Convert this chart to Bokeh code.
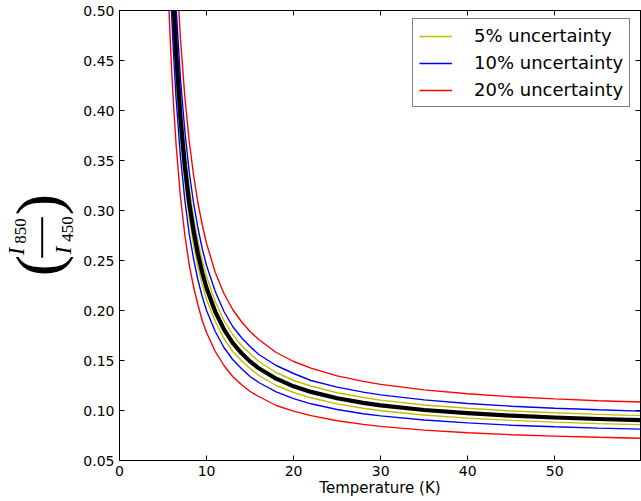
import math
from bokeh.plotting import figure
from bokeh.layouts import row
from bokeh.models import (LinearAxis, FixedTicker, PrintfTickFormatter,
                          Legend, LegendItem, Range1d)
from bokeh.core.properties import value
from bokeh.embed import file_html
from bokeh.resources import INLINE

# ---- data ----
x_ticks = [0, 10, 20, 30, 40, 50]
y_ticks = [0.05, 0.10, 0.15, 0.20, 0.25, 0.30, 0.35, 0.40, 0.45, 0.50]

T_black = [6.0, 6.2, 6.5, 7.0, 7.5, 8.0, 8.5, 9.0, 9.5, 10, 11, 12, 13, 14, 15, 16, 18, 20, 22, 25, 28, 30, 35, 40, 45, 50, 55, 59.8]
R_black = [0.549, 0.509, 0.458, 0.393, 0.345, 0.308, 0.280, 0.257, 0.238, 0.2225, 0.1987, 0.1811, 0.1677, 0.1574, 0.1491,
           0.1422, 0.1318, 0.1242, 0.1186, 0.1122, 0.1076, 0.1051, 0.1005, 0.0973, 0.0948, 0.0930, 0.0915, 0.0904]

T_y_up = [6.2, 6.5, 7.0, 7.5, 8.0, 8.5, 9.0, 9.5, 10, 11, 12, 13, 14, 15, 16, 18, 20, 22, 25, 28, 30, 35, 40, 45, 50, 55, 59.8]
R_y_up = [0.534, 0.481, 0.413, 0.362, 0.323, 0.294, 0.270, 0.250, 0.234, 0.209, 0.190, 0.176, 0.165, 0.157, 0.149,
          0.138, 0.130, 0.1245, 0.1178, 0.1130, 0.1104, 0.1055, 0.1022, 0.0995, 0.0977, 0.0961, 0.0949]
T_y_lo = [5.8, 6.0, 6.2, 6.5, 7.0, 7.5, 8.0, 8.5, 9.0, 9.5, 10, 11, 12, 13, 14, 15, 16, 18, 20, 22, 25, 28, 30, 35, 40, 45, 50, 55, 59.8]
R_y_lo = [0.565, 0.522, 0.484, 0.435, 0.373, 0.328, 0.293, 0.266, 0.244, 0.226, 0.211, 0.189, 0.172, 0.159, 0.150,
          0.142, 0.135, 0.125, 0.118, 0.1127, 0.1066, 0.1022, 0.0998, 0.0955, 0.0924, 0.0901, 0.0884, 0.0869, 0.0859]

T_b_up = [6.2, 6.5, 7.0, 7.5, 8.0, 8.5, 9.0, 9.5, 10, 11, 12, 13, 14, 15, 16, 18, 20, 22, 25, 28, 30, 35, 40, 45, 50, 55, 59.8]
R_b_up = [0.560, 0.504, 0.432, 0.380, 0.339, 0.308, 0.283, 0.262, 0.245, 0.219, 0.199, 0.184, 0.173, 0.164, 0.156,
          0.145, 0.137, 0.130, 0.1234, 0.1184, 0.1156, 0.1106, 0.1070, 0.1043, 0.1023, 0.1007, 0.0994]
T_b_lo = [5.8, 6.0, 6.2, 6.5, 7.0, 7.5, 8.0, 8.5, 9.0, 9.5, 10, 11, 12, 13, 14, 15, 16, 18, 20, 22, 25, 28, 30, 35, 40, 45, 50, 55, 59.8]
R_b_lo = [0.536, 0.494, 0.458, 0.412, 0.354, 0.311, 0.277, 0.252, 0.231, 0.214, 0.200, 0.179, 0.163, 0.151, 0.142,
          0.134, 0.128, 0.1186, 0.1118, 0.1067, 0.1010, 0.0968, 0.0946, 0.0905, 0.0876, 0.0853, 0.0837, 0.0824, 0.0814]

T_r_up = [6.5, 7.0, 7.5, 8.0, 8.5, 9.0, 9.5, 10, 11, 12, 13, 14, 15, 16, 18, 20, 22, 25, 28, 30, 35, 40, 45, 50, 55, 59.8]
R_r_up = [0.550, 0.472, 0.414, 0.370, 0.336, 0.308, 0.286, 0.267, 0.238, 0.217, 0.201, 0.189, 0.179, 0.171, 0.158,
          0.149, 0.1423, 0.1346, 0.1291, 0.1261, 0.1206, 0.1168, 0.1138, 0.1116, 0.1098, 0.1085]
T_r_lo = [5.6, 5.8, 6.0, 6.2, 6.5, 7.0, 7.5, 8.0, 8.5, 9.0, 9.5, 10, 11, 12, 13, 14, 15, 16, 18, 20, 22, 25, 28, 30, 35, 40, 45, 50, 55, 59.8]
R_r_lo = [0.520, 0.476, 0.439, 0.407, 0.366, 0.314, 0.276, 0.246, 0.224, 0.206, 0.190, 0.178, 0.159, 0.145, 0.134,
          0.126, 0.119, 0.114, 0.105, 0.0994, 0.0949, 0.0898, 0.0861, 0.0841, 0.0804, 0.0778, 0.0758, 0.0744, 0.0732, 0.0723]

legend_labels = ["5% uncertainty", "10% uncertainty", "20% uncertainty"]
x_label = "Temperature (K)"
# y label pieces: (I_850 / I_450)
ylab_I = "I"
ylab_num_sub = "850"
ylab_den_sub = "450"

FONT = "DejaVu Sans"
LW = 80          # width of the strip holding the y-axis label
H = 501
FRAME_TOP, FRAME_BOTTOM = 10, 460

# ---- main figure ----
p = figure(width=641 - LW, height=H, output_backend="svg", toolbar_location=None,
           x_range=Range1d(0, 59.85), y_range=Range1d(0.05, 0.5),
           min_border_left=118 - LW, min_border_right=1,
           min_border_top=FRAME_TOP, min_border_bottom=H - FRAME_BOTTOM)
p.background_fill_color = "white"
p.border_fill_color = "white"
p.outline_line_color = "black"
p.outline_line_width = 1
p.grid.visible = False

def style_axis(ax, show_labels=True):
    ax.major_tick_in = 5
    ax.major_tick_out = 0
    ax.minor_tick_in = 0
    ax.minor_tick_out = 0
    ax.axis_line_color = "black"
    ax.major_tick_line_color = "black"
    ax.major_label_text_font = FONT
    if show_labels:
        ax.major_label_text_color = "black"
        ax.major_label_text_font_size = "14px"
        ax.major_label_standoff = 5
    else:
        ax.major_label_text_color = None
        ax.major_label_text_font_size = "1px"
        ax.major_label_standoff = 0

p.xaxis.ticker = FixedTicker(ticks=x_ticks)
p.yaxis.ticker = FixedTicker(ticks=y_ticks)
p.yaxis.formatter = PrintfTickFormatter(format="%.2f")
style_axis(p.xaxis[0])
style_axis(p.yaxis[0])
p.xaxis.axis_label = x_label
p.xaxis.axis_label_text_font = FONT
p.xaxis.axis_label_text_font_style = "normal"
p.xaxis.axis_label_text_font_size = "15px"
p.xaxis.axis_label_standoff = 0
p.xaxis.axis_label_text_color = "black"

top_ax = LinearAxis(ticker=FixedTicker(ticks=x_ticks))
right_ax = LinearAxis(ticker=FixedTicker(ticks=y_ticks))
style_axis(top_ax, False)
style_axis(right_ax, False)
p.add_layout(top_ax, "above")
p.add_layout(right_ax, "right")

thin = 1.4
r_y1 = p.line(T_y_up, R_y_up, line_color="#bfbf00", line_width=thin)
p.line(T_y_lo, R_y_lo, line_color="#bfbf00", line_width=thin)
r_b1 = p.line(T_b_up, R_b_up, line_color="#0000ff", line_width=thin)
p.line(T_b_lo, R_b_lo, line_color="#0000ff", line_width=thin)
r_r1 = p.line(T_r_up, R_r_up, line_color="#ff0000", line_width=thin)
p.line(T_r_lo, R_r_lo, line_color="#ff0000", line_width=thin)
p.line(T_black, R_black, line_color="black", line_width=4.2, line_join="round")

legend = Legend(items=[LegendItem(label=legend_labels[0], renderers=[r_y1]),
                       LegendItem(label=legend_labels[1], renderers=[r_b1]),
                       LegendItem(label=legend_labels[2], renderers=[r_r1])],
                location=(293, 353))
legend.label_text_font = FONT
legend.label_text_font_size = "18px"
legend.label_text_color = "black"
legend.border_line_color = "black"
legend.border_line_width = 1
legend.background_fill_color = "white"
legend.background_fill_alpha = 1
legend.padding = 6
legend.spacing = 6
legend.margin = 0
legend.glyph_width = 33
legend.glyph_height = 20
legend.label_height = 20
legend.label_standoff = 22
p.add_layout(legend, "center")

# ---- strip with the y-axis label ----
# The row aligns this strip's frame with the main frame (page y 10..460),
# so the y range is given in page pixels over that span.
q = figure(width=LW, height=H, output_backend="svg", toolbar_location=None,
           x_range=Range1d(0, LW), y_range=Range1d(FRAME_BOTTOM, FRAME_TOP),
           x_axis_location=None, y_axis_location=None,
           min_border_left=0, min_border_right=0,
           min_border_top=FRAME_TOP, min_border_bottom=H - FRAME_BOTTOM)
q.outline_line_color = None
q.grid.visible = False
q.background_fill_color = "white"
q.border_fill_color = "white"

ang = math.pi / 2
q.text(x=[15.5, 62.5], y=[251, 250], text=[ylab_I, ylab_I], angle=ang,
       text_font=value("Liberation Serif"), text_font_style="italic",
       text_font_size="23px", text_align="center", text_baseline="middle", text_color="black")
q.text(x=[19.5, 66.5], y=[230.5, 228.5], text=[ylab_num_sub, ylab_den_sub], angle=ang,
       text_font=value("Liberation Serif"), text_font_size="17px",
       text_align="center", text_baseline="middle", text_color="black")
q.text(x=[38, 38], y=[265, 204], text=["(", ")"], angle=ang,
       text_font=value("Liberation Serif"), text_font_size="64px",
       text_align="center", text_baseline="middle", text_color="black")
q.quad(left=[40.7], right=[42.7], top=[216.7], bottom=[257.3], fill_color="black", line_color=None)

layout = row(q, p, spacing=0)
open("out.html", "w").write(file_html(layout, INLINE))
